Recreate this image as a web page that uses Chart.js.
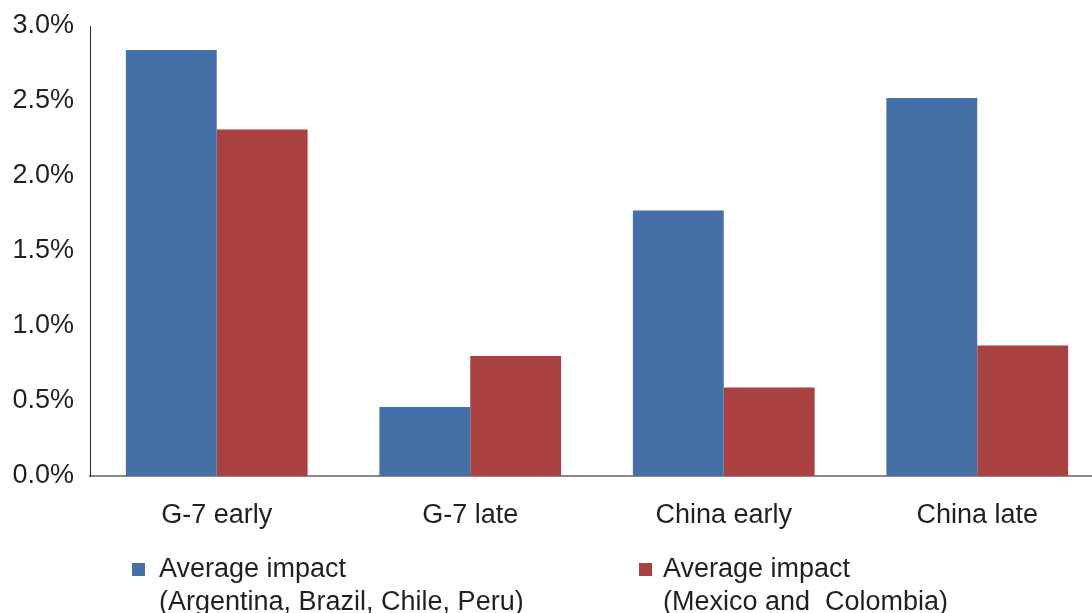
<!DOCTYPE html>
<html>
<head>
<meta charset="utf-8">
<script src="https://cdn.jsdelivr.net/npm/chart.js@4"></script>
<style>
  html, body { margin: 0; padding: 0; background: #ffffff; overflow: hidden; }
  #wrap { width: 1104px; height: 613px; }
</style>
</head>
<body>
<div id="wrap"><canvas id="c" width="1104" height="613"></canvas></div>
<script>
// Categories and series (percent)
const categories = ['G-7 early', 'G-7 late', 'China early', 'China late'];
const seriesNames = [
  ['Average impact', '(Argentina, Brazil, Chile, Peru)'],
  ['Average impact', '(Mexico and  Colombia)']
];
const southAmerica = [2.84, 0.46, 1.77, 2.52];
const mexicoColombia = [2.31, 0.80, 0.59, 0.87];
const yTicks = [0, 0.5, 1.0, 1.5, 2.0, 2.5, 3.0];

const BLUE = '#4470a7';
const RED = '#a8413f';
const TEXT = '#231f20';
const FONT = "'Liberation Sans', Arial, Helvetica, sans-serif";

// Two-line legend drawn under the category labels
const legendBelow = {
  id: 'legendBelow',
  afterDraw(chart) {
    const ctx = chart.ctx;
    const spots = [{ box: 132, text: 159 }, { box: 639, text: 663 }];
    ctx.save();
    ctx.font = '27px ' + FONT;
    ctx.textBaseline = 'alphabetic';
    ctx.textAlign = 'left';
    chart.data.datasets.forEach((ds, i) => {
      const s = spots[i];
      ctx.fillStyle = ds.backgroundColor;
      ctx.fillRect(s.box, 563, 13, 13);
      ctx.fillStyle = TEXT;
      const lines = Array.isArray(ds.label) ? ds.label : [ds.label];
      lines.forEach((ln, k) => ctx.fillText(ln, s.text, 577 + k * 33));
    });
    ctx.restore();
  }
};

new Chart(document.getElementById('c'), {
  type: 'bar',
  data: {
    labels: categories,
    datasets: [
      { label: seriesNames[0], data: southAmerica, backgroundColor: BLUE },
      { label: seriesNames[1], data: mexicoColombia, backgroundColor: RED }
    ]
  },
  options: {
    responsive: false,
    animation: false,
    devicePixelRatio: 1,
    layout: { padding: { top: 26, left: 0, right: 0, bottom: 0 } },
    datasets: { bar: { barPercentage: 1.0, categoryPercentage: 0.717 } },
    plugins: {
      legend: { display: false },
      tooltip: { enabled: false }
    },
    scales: {
      x: {
        grid: { display: false, drawTicks: false },
        border: { display: true, color: '#8a8a8a', width: 2 },
        ticks: {
          color: TEXT,
          font: { size: 27, family: FONT },
          padding: 23,
          maxRotation: 0
        },
        afterFit(scale) { scale.height = 137; }
      },
      y: {
        min: 0,
        max: 3,
        grid: { display: false, drawTicks: false },
        border: { display: true, color: '#2b2b2b', width: 1 },
        afterBuildTicks(scale) { scale.ticks = yTicks.map(v => ({ value: v })); },
        ticks: {
          color: TEXT,
          font: { size: 27, family: FONT },
          padding: 16,
          callback: v => Number(v).toFixed(1) + '%'
        },
        afterFit(scale) {
          scale.width = 90;
          scale.paddingTop = 0;
          scale.paddingBottom = 0;
        }
      }
    }
  },
  plugins: [legendBelow]
});
</script>
</body>
</html>
